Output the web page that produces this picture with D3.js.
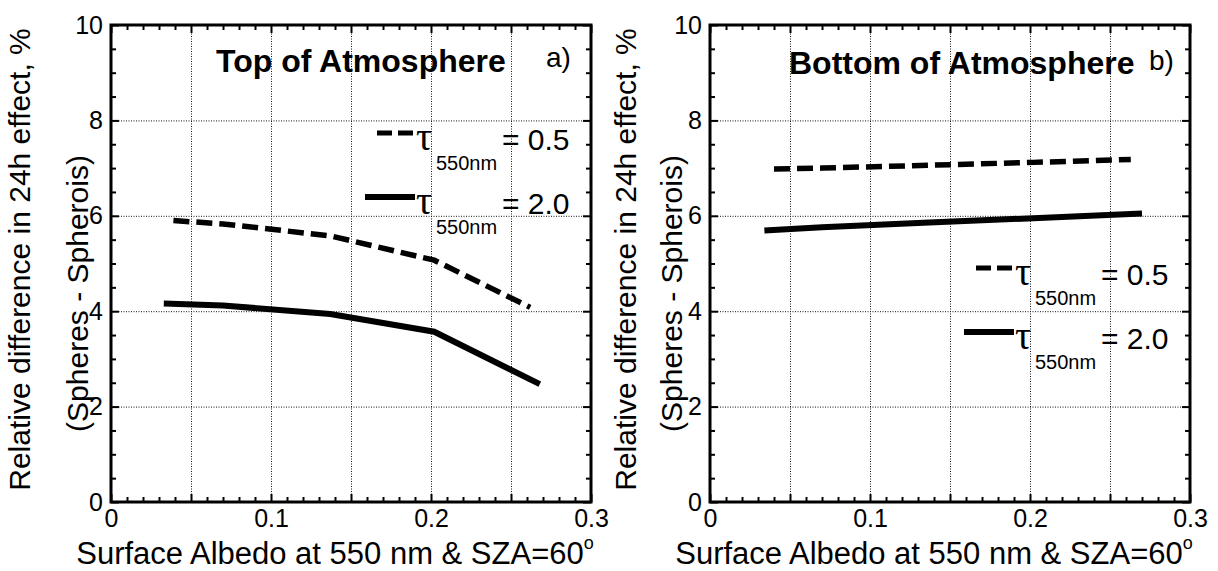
<!DOCTYPE html>
<html>
<head>
<meta charset="utf-8">
<script src="https://cdn.jsdelivr.net/npm/d3@7"></script>
<style>
  body { margin: 0; background: #fff; }
  svg { display: block; font-family: "Liberation Sans", Arial, sans-serif; }
</style>
</head>
<body>
<div id="chart"></div>
<script>
// albedo values and relative differences (%)
const toaSolidAlbedo = [0.033, 0.07, 0.137, 0.202, 0.268];
const toaSolidDiff   = [4.16, 4.12, 3.94, 3.57, 2.47];
const toaDashAlbedo  = [0.039, 0.07, 0.137, 0.202, 0.262];
const toaDashDiff    = [5.90, 5.83, 5.58, 5.07, 4.08];

const boaSolidAlbedo = [0.034, 0.07, 0.137, 0.202, 0.270];
const boaSolidDiff   = [5.69, 5.76, 5.86, 5.95, 6.05];
const boaDashAlbedo  = [0.040, 0.07, 0.137, 0.202, 0.263];
const boaDashDiff    = [6.98, 7.00, 7.06, 7.12, 7.18];

const xTickLabels = [0, 0.1, 0.2, 0.3];
const yTickLabels = [0, 2, 4, 6, 8, 10];
const legendTau = ["0.5", "2.0"];

const panels = [
  { left: 111, title: "Top of Atmosphere", titleX: 105, titleY: 72, tag: "a)", tagX: 435, tagY: 67,
    solid: [toaSolidAlbedo, toaSolidDiff], dash: [toaDashAlbedo, toaDashDiff],
    legendY: 133, ylab1: 30, ylab2: 88 },
  { left: 710, title: "Bottom of Atmosphere", titleX: 79, titleY: 74, tag: "b)", tagX: 439, tagY: 70,
    solid: [boaSolidAlbedo, boaSolidDiff], dash: [boaDashAlbedo, boaDashDiff],
    legendY: 268, ylab1: 636, ylab2: 682 }
];

const W = 1218, H = 571;
const plotTop = 25, plotBottom = 502, plotW = 480;

const svg = d3.select("#chart").append("svg")
  .attr("width", W)
  .attr("height", H);

panels.forEach(p => {
  const x = d3.scaleLinear().domain([0, 0.3]).range([p.left, p.left + plotW]);
  const y = d3.scaleLinear().domain([0, 10]).range([plotBottom, plotTop]);
  const g = svg.append("g");

  // dotted grid
  g.append("g")
    .attr("transform", `translate(0,${plotBottom})`)
    .call(d3.axisBottom(x).tickValues([0.05, 0.1, 0.15, 0.2, 0.25]).tickSize(-(plotBottom - plotTop)).tickFormat(""))
    .call(a => a.select(".domain").remove())
    .selectAll("line")
    .attr("stroke", "#111").attr("stroke-width", 1).attr("stroke-dasharray", "1,1.5");
  g.append("g")
    .attr("transform", `translate(${p.left},0)`)
    .call(d3.axisLeft(y).tickValues([2, 4, 6, 8]).tickSize(-plotW).tickFormat(""))
    .call(a => a.select(".domain").remove())
    .selectAll("line")
    .attr("stroke", "#111").attr("stroke-width", 1).attr("stroke-dasharray", "1,1.5");

  // inward ticks on all four sides
  const xMinor = d3.range(0, 31).map(i => i / 100);
  const yMinor = d3.range(0, 21).map(i => i / 2);
  const xMaj = v => Math.abs(v * 20 - Math.round(v * 20)) < 1e-6;
  const yMaj = v => v % 2 === 0;
  [[xMinor.filter(v => !xMaj(v)), 5], [xMinor.filter(xMaj), 8]].forEach(([vals, len]) => {
    g.append("g").attr("transform", `translate(0,${plotBottom})`)
      .call(d3.axisBottom(x).tickValues(vals).tickSize(-len).tickFormat(""))
      .call(a => a.select(".domain").remove())
      .selectAll("line").attr("stroke", "#000").attr("stroke-width", 2);
    g.append("g").attr("transform", `translate(0,${plotTop})`)
      .call(d3.axisTop(x).tickValues(vals).tickSize(-len).tickFormat(""))
      .call(a => a.select(".domain").remove())
      .selectAll("line").attr("stroke", "#000").attr("stroke-width", 2);
  });
  [[yMinor.filter(v => !yMaj(v)), 5], [yMinor.filter(yMaj), 8]].forEach(([vals, len]) => {
    g.append("g").attr("transform", `translate(${p.left},0)`)
      .call(d3.axisLeft(y).tickValues(vals).tickSize(-len).tickFormat(""))
      .call(a => a.select(".domain").remove())
      .selectAll("line").attr("stroke", "#000").attr("stroke-width", 2);
    g.append("g").attr("transform", `translate(${p.left + plotW},0)`)
      .call(d3.axisRight(y).tickValues(vals).tickSize(-len).tickFormat(""))
      .call(a => a.select(".domain").remove())
      .selectAll("line").attr("stroke", "#000").attr("stroke-width", 2);
  });

  // frame
  g.append("rect")
    .attr("x", p.left).attr("y", plotTop)
    .attr("width", plotW).attr("height", plotBottom - plotTop)
    .attr("fill", "none").attr("stroke", "#000").attr("stroke-width", 3);

  // tick labels
  g.append("g")
    .attr("transform", `translate(0,${plotBottom})`)
    .call(d3.axisBottom(x).tickValues(xTickLabels).tickSize(0).tickPadding(7).tickFormat(d => d === 0 ? "0" : d3.format(".1f")(d)))
    .call(a => a.select(".domain").remove())
    .selectAll("text")
    .attr("fill", "#000")
    .style("font-size", "25px")
    .style("font-family", "Liberation Sans, Arial, sans-serif");
  g.append("g")
    .attr("transform", `translate(${p.left},0)`)
    .call(d3.axisLeft(y).tickValues(yTickLabels).tickSize(0).tickPadding(8))
    .call(a => a.select(".domain").remove())
    .selectAll("text")
    .attr("fill", "#000")
    .style("font-size", "25px")
    .style("font-family", "Liberation Sans, Arial, sans-serif");

  // curves
  const line = d3.line().x(d => x(d[0])).y(d => y(d[1]));
  const pts = arr => arr[0].map((a, i) => [a, arr[1][i]]);
  g.append("path")
    .datum(pts(p.dash))
    .attr("d", line)
    .attr("fill", "none").attr("stroke", "#000")
    .attr("stroke-width", 5.5).attr("stroke-dasharray", "16,7");
  g.append("path")
    .datum(pts(p.solid))
    .attr("d", line)
    .attr("fill", "none").attr("stroke", "#000")
    .attr("stroke-width", 6);

  // title and panel tag
  g.append("text")
    .attr("x", p.left + p.titleX).attr("y", p.titleY)
    .style("font-size", "32px").style("font-weight", "bold")
    .text(p.title);
  g.append("text")
    .attr("x", p.left + p.tagX).attr("y", p.tagY)
    .style("font-size", "28px")
    .text(p.tag);

  // legend
  legendTau.forEach((val, i) => {
    const ly = p.legendY + i * 64;
    g.append("line")
      .attr("x1", p.left + (i === 0 ? 266 : 254)).attr("x2", p.left + 304)
      .attr("y1", ly).attr("y2", ly)
      .attr("stroke", "#000").attr("stroke-width", i === 0 ? 5 : 6)
      .attr("stroke-dasharray", i === 0 ? "15,6" : null);
    g.append("text")
      .attr("x", p.left + 305).attr("y", ly + 17)
      .style("font-family", "Liberation Serif, serif")
      .style("font-size", "40px")
      .text("τ");
    g.append("text")
      .attr("x", p.left + 325).attr("y", ly + 37)
      .style("font-size", "20px")
      .text("550nm");
    g.append("text")
      .attr("x", p.left + 391).attr("y", ly + 17)
      .style("font-size", "30px")
      .text("= " + val);
  });

  // axis titles
  const xt = g.append("text")
    .attr("x", p.left + plotW / 2 - 16).attr("y", 564)
    .attr("text-anchor", "middle")
    .style("font-size", "31px")
    .text("Surface Albedo at 550 nm & SZA=60");
  xt.append("tspan")
    .attr("dy", -15)
    .style("font-size", "18px")
    .text("o");

  g.append("text")
    .attr("transform", `translate(${p.ylab1},${(plotTop + plotBottom) / 2 - 4}) rotate(-90)`)
    .attr("text-anchor", "middle")
    .style("font-size", "30px")
    .text("Relative difference in 24h effect, %");
  g.append("text")
    .attr("transform", `translate(${p.ylab2},${(plotTop + plotBottom) / 2 + 30}) rotate(-90)`)
    .attr("text-anchor", "middle")
    .style("font-size", "30px")
    .text("(Spheres - Spherois)");
});
</script>
</body>
</html>
